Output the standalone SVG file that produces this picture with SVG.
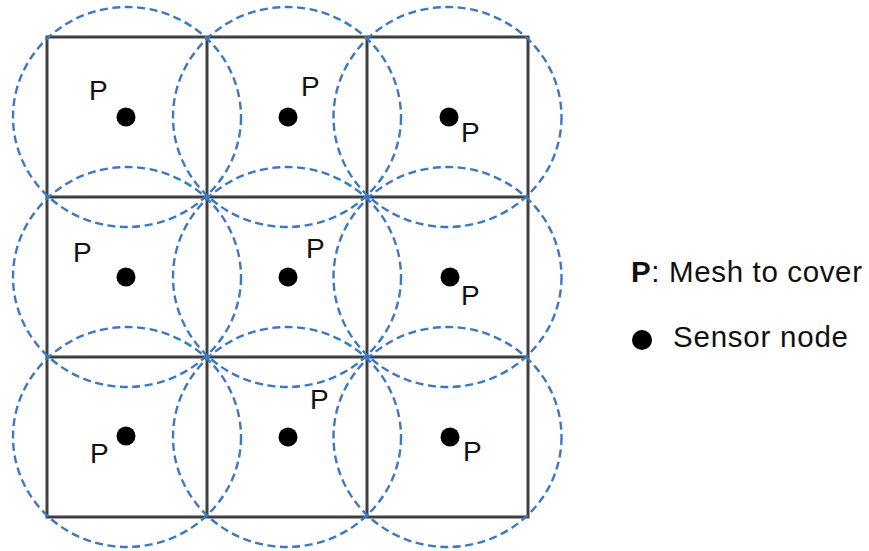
<svg xmlns="http://www.w3.org/2000/svg" width="869" height="551" viewBox="0 0 869 551">
<style>
.grid{stroke:#404040;stroke-width:3;fill:none}
.cov{fill:none;stroke:#3a78c4;stroke-width:2.4;stroke-dasharray:8 4.5}
.dot{fill:#000}
.p{font-family:"Liberation Sans",Arial,sans-serif;font-size:28px;fill:#111}
.leg{font-family:"Liberation Sans",Arial,sans-serif;font-size:29.5px;fill:#111}
</style>
<rect width="869" height="551" fill="#fff"/>
<g id="mesh">
<path class="grid" d="M47 37H528V517H47Z M207 37V517 M367 37V517 M47 197H528 M47 357H528"/>
</g>
<g id="coverage">
<ellipse class="cov" cx="127" cy="117" rx="114" ry="110"/>
<ellipse class="cov" cx="287" cy="117" rx="114" ry="110"/>
<ellipse class="cov" cx="447.5" cy="117" rx="114" ry="110"/>
<ellipse class="cov" cx="127" cy="277" rx="114" ry="110"/>
<ellipse class="cov" cx="287" cy="277" rx="114" ry="110"/>
<ellipse class="cov" cx="447.5" cy="277" rx="114" ry="110"/>
<ellipse class="cov" cx="127" cy="437" rx="114" ry="110"/>
<ellipse class="cov" cx="287" cy="437" rx="114" ry="110"/>
<ellipse class="cov" cx="447.5" cy="437" rx="114" ry="110"/>
</g>
<g id="cell-1-1"><circle class="dot" cx="126" cy="117" r="9.5"/><text class="p" x="89" y="100">P</text></g>
<g id="cell-1-2"><circle class="dot" cx="288" cy="117" r="9.5"/><text class="p" x="301" y="96">P</text></g>
<g id="cell-1-3"><circle class="dot" cx="449" cy="117" r="9.5"/><text class="p" x="461" y="142">P</text></g>
<g id="cell-2-1"><circle class="dot" cx="126" cy="277" r="9.5"/><text class="p" x="73" y="262">P</text></g>
<g id="cell-2-2"><circle class="dot" cx="288" cy="277" r="9.5"/><text class="p" x="306" y="258">P</text></g>
<g id="cell-2-3"><circle class="dot" cx="450" cy="277" r="9.5"/><text class="p" x="461" y="305">P</text></g>
<g id="cell-3-1"><circle class="dot" cx="126" cy="436" r="9.5"/><text class="p" x="90" y="463">P</text></g>
<g id="cell-3-2"><circle class="dot" cx="288" cy="437" r="9.5"/><text class="p" x="310" y="409">P</text></g>
<g id="cell-3-3"><circle class="dot" cx="450" cy="437" r="9.5"/><text class="p" x="463" y="461">P</text></g>
<g id="legend">
<text class="leg" x="631" y="282" textLength="231" lengthAdjust="spacing"><tspan font-weight="bold">P</tspan>: Mesh to cover</text>
<circle class="dot" cx="642" cy="340" r="10"/>
<text class="leg" x="673" y="347" textLength="175" lengthAdjust="spacing">Sensor node</text>
</g>
</svg>
